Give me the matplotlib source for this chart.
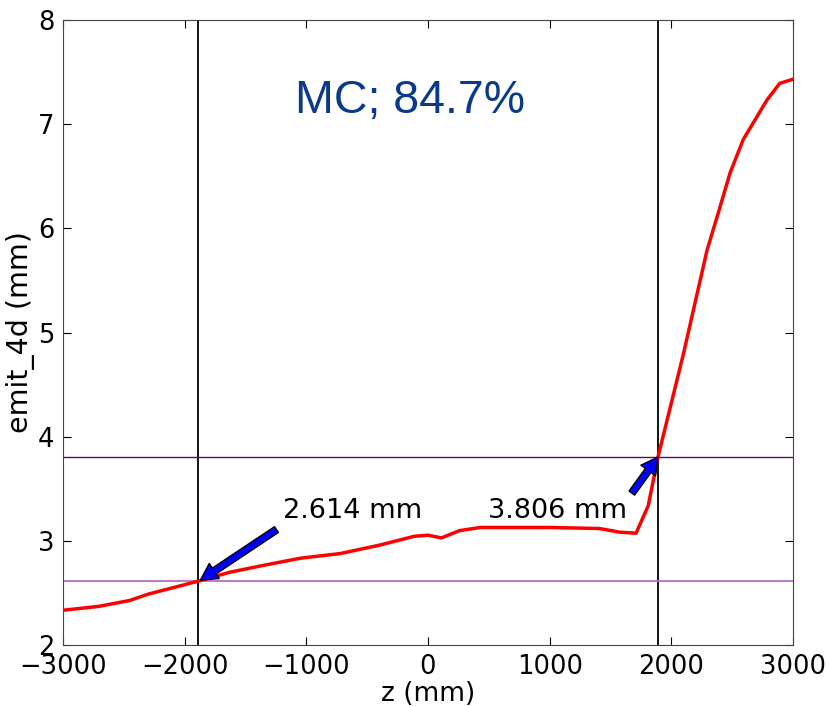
import numpy as np
import matplotlib
matplotlib.use('Agg')
import matplotlib.pyplot as plt

# emittance along z
z = [-3000, -2700, -2450, -2300, -2080, -1890, -1630, -1380, -1050, -720,
     -400, -110, 0, 110, 260, 430, 1000, 1410, 1575, 1710, 1810, 1890,
     2096, 2178, 2293, 2400, 2482, 2590, 2785, 2890, 3000]
emit = [2.336, 2.374, 2.43, 2.49, 2.557, 2.614, 2.70, 2.76, 2.835, 2.88,
        2.96, 3.046, 3.056, 3.03, 3.10, 3.13, 3.13, 3.12, 3.085, 3.075, 3.34, 3.806,
        4.78, 5.20, 5.79, 6.205, 6.53, 6.85, 7.23, 7.39, 7.43]

z_lo, z_hi = -1890, 1890
e_lo, e_hi = 2.614, 3.806
label = 'MC; 84.7%'

fig = plt.figure(figsize=(8.27, 7.06), dpi=100)
ax = fig.add_axes([0.076, 0.086, 0.883, 0.886])

ax.plot(z, emit, color='red', lw=2.5, zorder=3)
ax.axvline(z_lo, color='black', lw=1.3)
ax.axvline(z_hi, color='black', lw=1.3)
ax.axhline(e_hi, color='#5a0a6a', lw=1.0)
ax.axhline(e_lo, color='#b86cc8', lw=1.3)

arrow = dict(facecolor='blue', edgecolor='black', width=5, headwidth=13,
             headlength=12, shrink=0.0)
ax.annotate('', xy=(z_lo + 20, e_lo + 0.01), xytext=(-1245, 3.11), arrowprops=arrow)
ax.annotate('', xy=(z_hi, e_hi), xytext=(1675, 3.46), arrowprops=arrow)
ax.text(-1192, 3.219, '%.3f mm' % e_lo, fontsize=19.5, ha='left', va='baseline')
ax.text(1634, 3.219, '%.3f mm' % e_hi, fontsize=19.5, ha='right', va='baseline')

ax.text(0.475, 0.87, label, transform=ax.transAxes, ha='center', va='center',
        fontsize=33.5, color='#0b3a8c', family='Liberation Sans')

ax.set_xlim(-3000, 3000)
ax.set_ylim(2, 8)
ax.set_xticks([-3000, -2000, -1000, 0, 1000, 2000, 3000])
ax.set_yticks([2, 3, 4, 5, 6, 7, 8])
ax.set_xlabel('z (mm)', fontsize=19, labelpad=1)
ax.set_ylabel('emit_4d (mm)', fontsize=20.5, labelpad=2)
ax.tick_params(direction='in', top=True, right=True, labelsize=18.5, length=6, pad=6)
for s in ax.spines.values():
    s.set_color('#444444')

fig.savefig('out.png', dpi=100)
